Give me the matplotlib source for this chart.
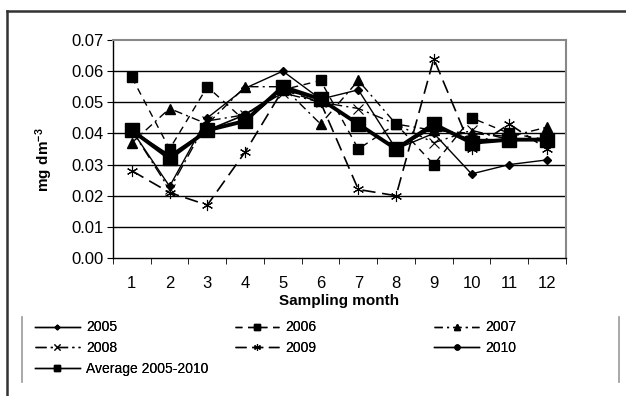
import matplotlib
matplotlib.use('Agg')
import matplotlib.pyplot as plt
from matplotlib.lines import Line2D
import numpy as np

plt.rcParams['font.family'] = ['Liberation Sans', 'DejaVu Sans']
plt.rcParams['mathtext.fontset'] = 'custom'
plt.rcParams['mathtext.rm'] = 'Liberation Sans'
plt.rcParams['mathtext.bf'] = 'Liberation Sans:bold'

months = list(range(1, 13))
y2005 = [0.041, 0.023, 0.045, 0.0545, 0.060, 0.051, 0.054, 0.035, 0.040, 0.027, 0.030, 0.0315]
y2006 = [0.058, 0.035, 0.055, 0.044, 0.054, 0.057, 0.035, 0.043, 0.030, 0.045, 0.040, 0.038]
y2007 = [0.037, 0.048, 0.043, 0.055, 0.055, 0.043, 0.057, 0.043, 0.041, 0.040, 0.039, 0.042]
y2008 = [0.041, 0.022, 0.044, 0.046, 0.053, 0.050, 0.048, 0.043, 0.037, 0.041, 0.038, 0.038]
y2009 = [0.028, 0.021, 0.017, 0.034, 0.054, 0.050, 0.022, 0.020, 0.064, 0.035, 0.043, 0.035]
y2010 = [0.041, 0.033, 0.041, 0.046, 0.054, 0.051, 0.043, 0.035, 0.042, 0.038, 0.038, 0.038]
yavg = [0.041, 0.032, 0.041, 0.044, 0.055, 0.051, 0.043, 0.035, 0.043, 0.037, 0.038, 0.038]

fig = plt.figure(figsize=(6.26, 3.96), dpi=100)
ax = fig.add_axes([0.1805, 0.3485, 0.7235, 0.5505])

styles = {
    '2005': dict(lw=1.0, ls='-', marker='D', ms=4),
    '2006': dict(lw=1.0, ls=(0, (5, 4)), marker='s', ms=7.5),
    '2007': dict(lw=1.0, ls=(0, (6, 3, 1.5, 3)), marker='^', ms=6.5),
    '2008': dict(lw=1.0, ls=(0, (8, 3, 1.5, 3)), marker='x', ms=7, mew=0.8),
    '2009': dict(lw=1.2, ls=(0, (8, 4)), marker=(6, 2, 0), ms=8, mew=0.8),
    '2010': dict(lw=1.2, ls='-', marker='o', ms=6),
    'Average 2005-2010': dict(lw=2.8, ls='-', marker='s', ms=9.5),
}
series = {'2005': y2005, '2006': y2006, '2007': y2007, '2008': y2008,
          '2009': y2009, '2010': y2010, 'Average 2005-2010': yavg}
for name, vals in series.items():
    ax.plot(months, vals, color='black', label=name, **styles[name])

ax.set_xlim(0.5, 12.5)
ax.set_ylim(0, 0.07)
ax.set_yticks(np.arange(0, 0.071, 0.01))
ax.set_yticklabels(['%.2f' % v for v in np.arange(0, 0.071, 0.01)], fontsize=12)
ax.set_xticks(months)
ax.set_xticklabels([str(m) for m in months], fontsize=12)
ax.set_xticks(np.arange(0.5, 12.6, 1), minor=True)
ax.tick_params(axis='x', which='major', length=0, pad=13)
ax.tick_params(axis='x', which='minor', length=4, direction='out')
ax.tick_params(axis='y', length=4, direction='out', pad=3)
for v in np.arange(0.01, 0.065, 0.01):
    ax.axhline(v, color='black', lw=1.0, zorder=0)
for s in ['top', 'right']:
    ax.spines[s].set_color('#888888')
    ax.spines[s].set_linewidth(1.5)
for s in ['left', 'bottom']:
    ax.spines[s].set_color('black')
    ax.spines[s].set_linewidth(1.0)

ax.set_xlabel('Sampling month', fontsize=11, fontweight='bold', labelpad=2)
ax.set_ylabel(r'$\mathbf{mg\ dm^{-3}}$', fontsize=11)
ax.yaxis.set_label_coords(-0.127, 0.45)

# legend proxies with thin lines and small marks, three columns placed like the original
def proxy(name):
    st = dict(styles[name])
    st['lw'] = 1.0
    st['ms'] = min(st['ms'] * 0.6, 5)
    return Line2D([], [], color='black', label=name, **st)

cols = [(['2005', '2008', 'Average 2005-2010'], 0.056),
        (['2006', '2009'], 0.375),
        (['2007', '2010'], 0.694)]
for names, x0 in cols:
    hs = [proxy(n) for n in names]
    leg = fig.legend(handles=hs, ncol=1, loc='upper left', bbox_to_anchor=(x0, 0.191),
                     frameon=False, fontsize=10, handlelength=3.2, handletextpad=0.45,
                     labelspacing=0.5, borderpad=0, borderaxespad=0)
    fig.add_artist(leg)

# legend side rules and outer frame
fig.add_artist(Line2D([0.035, 0.035], [0.035, 0.2], color='#999999', lw=1.2))
fig.add_artist(Line2D([0.989, 0.989], [0.035, 0.2], color='#999999', lw=1.2))
fig.add_artist(Line2D([0.011, 1.0], [0.972, 0.972], color='#333333', lw=1.8))
fig.add_artist(Line2D([0.011, 0.011], [0.0, 0.972], color='#333333', lw=1.8))

fig.savefig('out.png', dpi=100)
